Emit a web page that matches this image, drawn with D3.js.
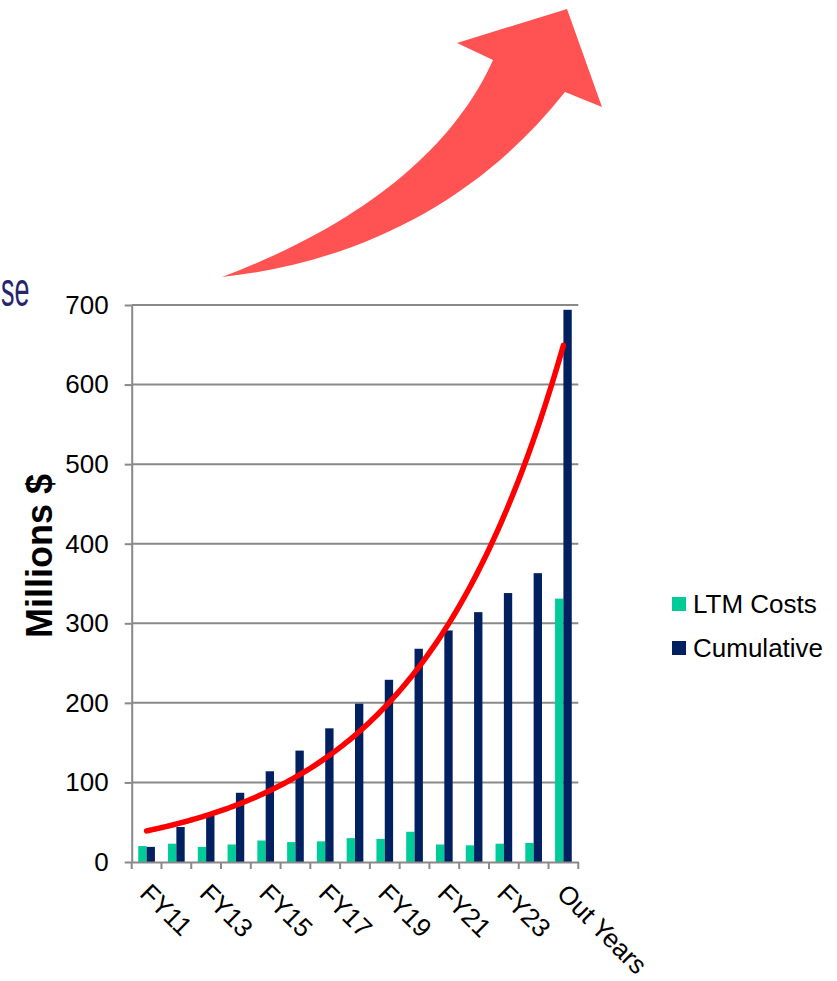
<!DOCTYPE html>
<html>
<head>
<meta charset="utf-8">
<script src="https://cdn.jsdelivr.net/npm/d3@7"></script>
<style>
  html, body { margin: 0; padding: 0; background: #ffffff; }
  svg { display: block; }
  text { font-family: "Liberation Sans", Arial, sans-serif; }
</style>
</head>
<body>
<svg id="chart" width="837" height="981"></svg>
<script>
// Program cost data, millions of dollars
const categories = ["FY11", "FY12", "FY13", "FY14", "FY15", "FY16", "FY17", "FY18",
                    "FY19", "FY20", "FY21", "FY22", "FY23", "FY24", "Out Years"];
const ltmCosts   = [20, 23, 19, 22, 27, 25, 26, 30, 29, 38, 22, 21, 23, 24, 331];
const cumulative = [19, 44, 58, 87, 114, 140, 168, 199, 229, 268, 291, 314, 338, 363, 694];
const yTicks = [0, 100, 200, 300, 400, 500, 600, 700];
const shownLabels = ["FY11", "FY13", "FY15", "FY17", "FY19", "FY21", "FY23", "Out Years"];
const seriesNames = ["LTM Costs", "Cumulative"];
const seriesColors = ["#00CC99", "#002060"];

const svg = d3.select("#chart");
const gray = "#898989";

// ---- decorative growth arrow ----
svg.append("path")
  .attr("d", "M222,277 C360,262 480,200 565,92 L602,107 L567,9 L457,43 L493,60 C458,138 378,218 222,277 Z")
  .attr("fill", "#FF5252");

// tail of the slide heading at the left edge
svg.append("text")
  .attr("transform", "translate(1,306) scale(0.56,1)")
  .attr("text-anchor", "start")
  .style("font-size", "48px")
  .attr("fill", "#25256F")
  .text("se");

// ---- scales ----
const x = d3.scaleBand().domain(categories).range([131.7, 578.3]).padding(0);
const y = d3.scaleLinear().domain([0, 700]).range([862, 305]);
const bw = x.bandwidth();
const barW = bw * 0.28;

// ---- gridlines ----
svg.append("g").selectAll("line")
  .data(yTicks.filter(t => t > 0))
  .join("line")
  .attr("x1", x.range()[0]).attr("x2", x.range()[1])
  .attr("y1", d => y(d)).attr("y2", d => y(d))
  .attr("stroke", gray).attr("stroke-width", 2);

// ---- y axis ----
const yAxis = svg.append("g")
  .attr("transform", `translate(${x.range()[0]},0)`)
  .call(d3.axisLeft(y).tickValues(yTicks).tickSize(7).tickPadding(16).tickSizeOuter(0));
yAxis.select(".domain").attr("stroke", gray).attr("stroke-width", 2);
yAxis.selectAll(".tick line").attr("stroke", gray).attr("stroke-width", 2);
yAxis.selectAll(".tick text")
  .style("font-family", "'Liberation Sans', Arial, sans-serif")
  .style("font-size", "26px").attr("fill", "#000");

// ---- bars ----
const series = [ltmCosts, cumulative];
series.forEach((vals, si) => {
  svg.append("g").selectAll("rect")
    .data(categories.map((c, i) => ({ c, v: vals[i] })))
    .join("rect")
    .attr("x", d => x(d.c) + bw / 2 - barW + si * barW)
    .attr("width", barW)
    .attr("y", d => y(d.v))
    .attr("height", d => y(0) - y(d.v))
    .attr("fill", seriesColors[si]);
});

// ---- x axis ----
const xAxisG = svg.append("g")
  .attr("transform", `translate(0,${y(0)})`)
  .call(d3.axisBottom(x).tickSize(0).tickPadding(0).tickSizeOuter(0)
    .tickFormat(d => shownLabels.includes(d) ? d : ""));
xAxisG.select(".domain").attr("stroke", gray).attr("stroke-width", 2);
xAxisG.selectAll(".tick text")
  .style("font-family", "'Liberation Sans', Arial, sans-serif")
  .style("font-size", "26px").attr("fill", "#000")
  .attr("text-anchor", "start")
  .attr("y", 0).attr("dy", 0)
  .attr("transform", "translate(-8,33) rotate(45)");

// category boundary tick marks
const bounds = categories.map(c => x(c)).concat([x.range()[1]]);
svg.append("g").selectAll("line")
  .data(bounds)
  .join("line")
  .attr("x1", d => d).attr("x2", d => d)
  .attr("y1", y(0)).attr("y2", y(0) + 7)
  .attr("stroke", gray).attr("stroke-width", 2);

// ---- exponential trendline fitted to the cumulative series ----
const idx = cumulative.map((_, i) => i + 1);
const lnY = cumulative.map(v => Math.log(v));
const mx = d3.mean(idx), my = d3.mean(lnY);
const slope = d3.sum(idx, (xi, i) => (xi - mx) * (lnY[i] - my)) / d3.sum(idx, xi => (xi - mx) ** 2);
const intercept = my - slope * mx;
const trendPts = d3.range(1, 15.0001, 0.1).map(t => [
  x(categories[0]) + bw / 2 + (t - 1) * bw,
  y(Math.exp(intercept + slope * t))
]);
svg.append("path")
  .attr("d", d3.line().curve(d3.curveMonotoneX)(trendPts))
  .attr("fill", "none")
  .attr("stroke", "#FF0000")
  .attr("stroke-width", 5.5)
  .attr("stroke-linecap", "round");

// ---- axis title ----
svg.append("text")
  .attr("transform", "translate(52,556) rotate(-90)")
  .attr("text-anchor", "middle")
  .style("font-size", "36px").style("font-weight", "bold")
  .attr("fill", "#000")
  .text("Millions $");

// ---- legend ----
const legend = svg.append("g");
seriesNames.forEach((name, i) => {
  const ly = 604 + i * 44;
  legend.append("rect")
    .attr("x", 672).attr("y", ly - 7).attr("width", 14).attr("height", 14)
    .attr("fill", seriesColors[i]);
  legend.append("text")
    .attr("x", 693).attr("y", ly).attr("dy", "0.36em")
    .style("font-size", "26px").attr("fill", "#000")
    .text(name);
});
</script>
</body>
</html>
